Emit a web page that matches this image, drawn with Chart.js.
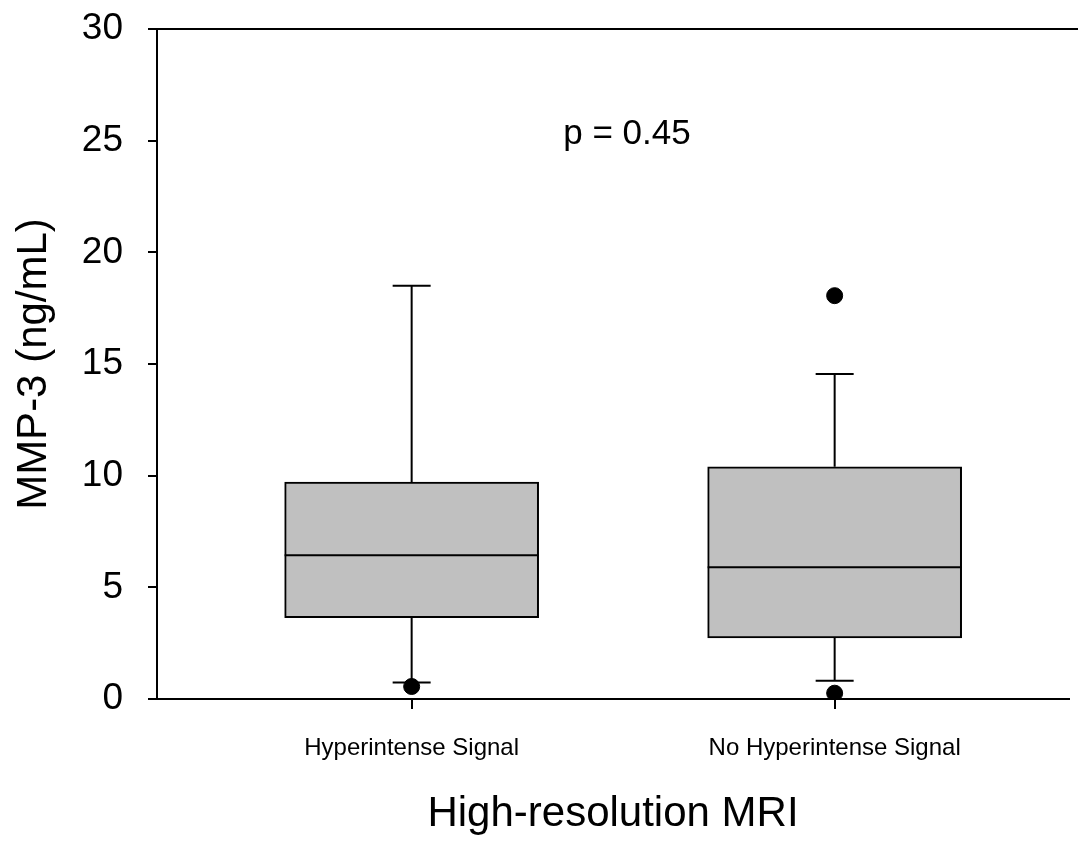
<!DOCTYPE html>
<html>
<head>
<meta charset="utf-8">
<script src="https://cdn.jsdelivr.net/npm/chart.js@4.4.1/dist/chart.umd.min.js"></script>
<style>
html,body{margin:0;padding:0;background:#fff;}
#wrap{width:1078px;height:849px;}
</style>
</head>
<body>
<div id="wrap"><canvas id="c" width="1078" height="849"></canvas></div>
<script>
const categories = ['Hyperintense Signal', 'No Hyperintense Signal'];
const whiskerLow = [0.74, 0.82];
const q1 = [3.64, 2.74];
const median = [6.44, 5.90];
const q3 = [9.71, 10.40];
const whiskerHigh = [18.5, 14.55];
const outliers = [[0.56], [18.06, 0.26]];
const yTicks = [0, 5, 10, 15, 20, 25, 30];
const annotationText = ['p = 0.45'];
const annotationPos = [{x: 1.509, y: 25.3}];

const FONT = '"Liberation Sans", Arial, sans-serif';
const positions = categories.map((c, i) => i + 1);

const boxData = positions.map((p, i) => ({x: p, y: [q1[i], q3[i]]}));
const outlierData = [];
outliers.forEach((arr, i) => arr.forEach(v => outlierData.push({x: positions[i], y: v})));

const boxPlugin = {
  id: 'boxExtras',
  afterDatasetsDraw(chart) {
    const {ctx, scales: {x, y}} = chart;
    ctx.save();
    ctx.strokeStyle = '#000';
    ctx.lineWidth = 2;
    positions.forEach((p, i) => {
      const cx = x.getPixelForValue(p);
      const half = 127;
      const cap = 19;
      const ym = y.getPixelForValue(median[i]);
      ctx.beginPath(); ctx.moveTo(cx - half, ym); ctx.lineTo(cx + half, ym); ctx.stroke();
      const yq3 = y.getPixelForValue(q3[i]);
      const yq1 = y.getPixelForValue(q1[i]);
      const yhi = y.getPixelForValue(whiskerHigh[i]);
      const ylo = y.getPixelForValue(whiskerLow[i]);
      ctx.beginPath();
      ctx.moveTo(cx, yq3); ctx.lineTo(cx, yhi);
      ctx.moveTo(cx - cap, yhi); ctx.lineTo(cx + cap, yhi);
      ctx.moveTo(cx, yq1); ctx.lineTo(cx, ylo);
      ctx.moveTo(cx - cap, ylo); ctx.lineTo(cx + cap, ylo);
      ctx.stroke();
    });
    const yt = y.getPixelForValue(30);
    ctx.beginPath(); ctx.moveTo(x.left, yt); ctx.lineTo(chart.width, yt); ctx.stroke();
    ctx.fillStyle = '#000';
    ctx.font = '35px ' + FONT;
    ctx.textAlign = 'center';
    ctx.textBaseline = 'middle';
    annotationText.forEach((t, i) => {
      ctx.fillText(t, x.getPixelForValue(annotationPos[i].x), y.getPixelForValue(annotationPos[i].y));
    });
    ctx.restore();
  }
};

new Chart(document.getElementById('c'), {
  type: 'bar',
  data: {
    datasets: [
      {
        type: 'bar',
        data: boxData,
        backgroundColor: '#c0c0c0',
        borderColor: '#000',
        borderWidth: 2,
        borderSkipped: false,
        barThickness: 254,
        order: 2
      },
      {
        type: 'scatter',
        data: outlierData,
        backgroundColor: '#000',
        borderColor: '#000',
        pointRadius: 8,
        pointHoverRadius: 8,
        order: 1
      }
    ]
  },
  options: {
    responsive: false,
    animation: false,
    devicePixelRatio: 1,
    layout: {padding: {top: 29, right: 0, left: 0, bottom: 0}},
    plugins: {legend: {display: false}, tooltip: {enabled: false}},
    scales: {
      x: {
        type: 'linear',
        min: 0.398,
        max: 2.554,
        offset: false,
        afterFit(s) { s.height = 150; s.paddingLeft = 0; s.paddingRight = 0; },
        afterBuildTicks(s) { s.ticks = positions.map(v => ({value: v})); },
        ticks: {
          color: '#000',
          font: {family: FONT, size: 24},
          padding: 25,
          maxRotation: 0,
          autoSkip: false,
          callback: (v) => categories[Math.round(v) - 1] || ''
        },
        grid: {offset: false, drawOnChartArea: false, drawTicks: true, tickLength: 10, color: '#000', lineWidth: 2},
        border: {display: true, color: '#000', width: 2},
        title: {
          display: true,
          text: 'High-resolution MRI',
          color: '#000',
          font: {family: FONT, size: 42},
          padding: {top: 0, bottom: 9}
        }
      },
      y: {
        min: 0,
        max: 30,
        afterFit(s) { s.width = 157; s.paddingTop = 0; s.paddingBottom = 0; },
        afterBuildTicks(s) { s.ticks = yTicks.map(v => ({value: v})); },
        ticks: {
          color: '#000',
          font: {family: FONT, size: 37},
          padding: 25
        },
        grid: {drawOnChartArea: false, drawTicks: true, tickLength: 9, color: '#000', lineWidth: 2},
        border: {display: true, color: '#000', width: 2},
        title: {
          display: true,
          text: 'MMP-3 (ng/mL)',
          color: '#000',
          font: {family: FONT, size: 42},
          padding: {top: 9, bottom: 0}
        }
      }
    }
  },
  plugins: [boxPlugin]
});
</script>
</body>
</html>
